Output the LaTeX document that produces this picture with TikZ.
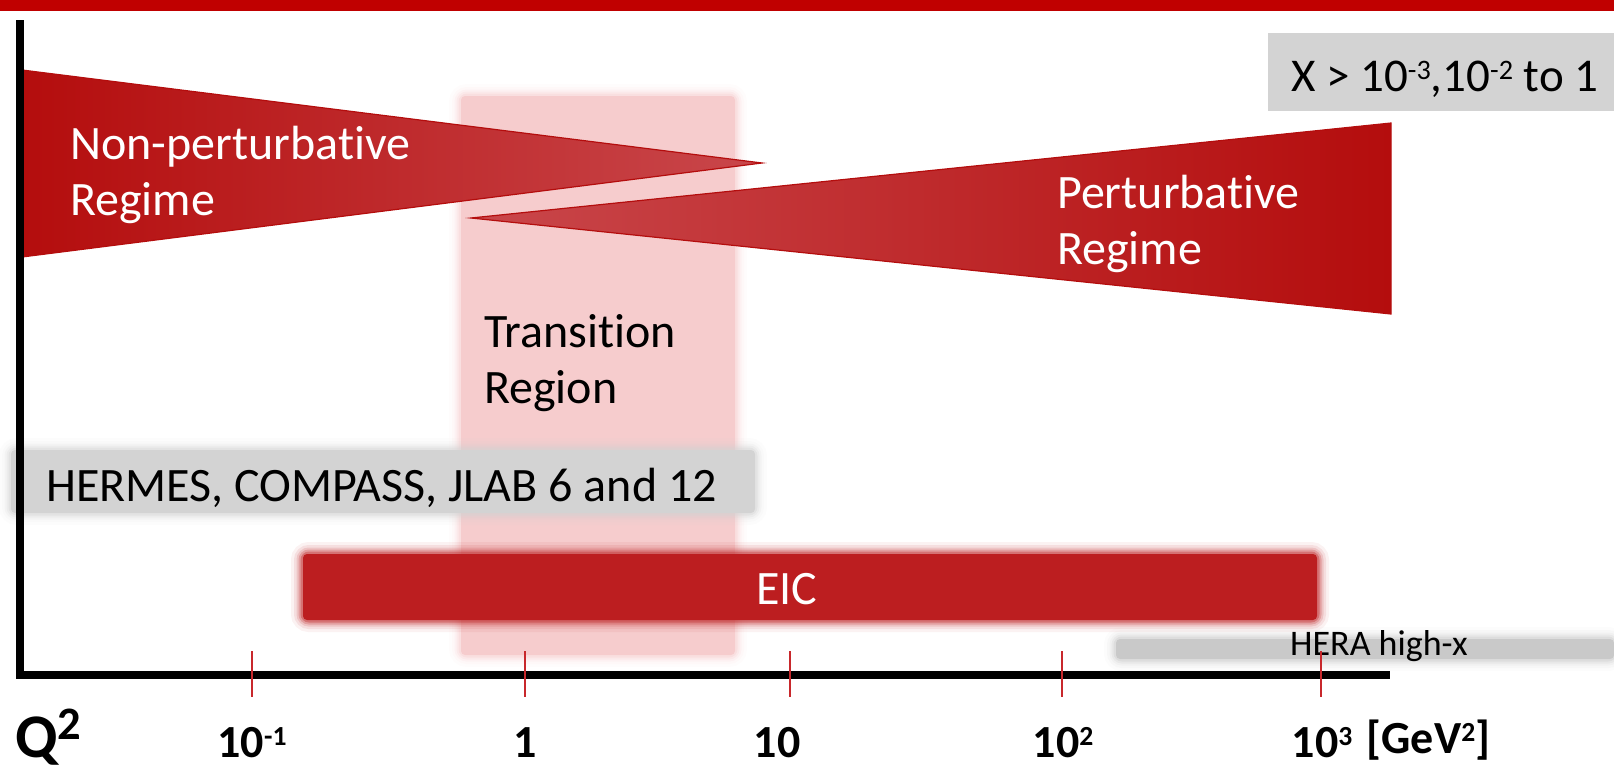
\documentclass[tikz,border=0pt]{standalone}
\usepackage{fontspec}
\setmainfont{Carlito}[Ligatures=NoCommon]
\usetikzlibrary{positioning}

\definecolor{titlered}{HTML}{C00000}
\definecolor{deepred}{HTML}{B40D0D}
\definecolor{midred}{HTML}{C01A1B}
\definecolor{tipred}{HTML}{C9474B}
\definecolor{eicred}{HTML}{BC1E20}
\definecolor{zonepink}{HTML}{F6CCCD}
\definecolor{bargray}{HTML}{D3D3D3}
\definecolor{heragray}{HTML}{C9C9C9}
\definecolor{tickred}{HTML}{C8282C}

% bar with a soft, blurred edge
\newcommand{\softbar}[3]{%
  \foreach \w/\o in {24/0.06,18/0.09,13/0.14,9/0.22,5/0.35}
    \draw[#1,line width=\w pt,opacity=\o,rounded corners=6pt] #2 rectangle #3;
  \fill[#1,rounded corners=4pt] #2 rectangle #3;
}
% exponent, top aligned with the digits
\newcommand{\pw}[1]{\raisebox{0.25em}{\scalebox{0.6}{#1}}}

\begin{document}
\begin{tikzpicture}[x=1pt,y=-1pt,
  lbl/.style={font=\fontsize{48}{56}\selectfont,inner sep=0pt,align=left,anchor=west},
  ticklbl/.style={font=\bfseries\fontsize{46}{50}\selectfont,inner sep=0pt,anchor=base},
  wedge/.style={draw=deepred,line width=1.2pt},
  axis/.style={line width=8.5pt,line join=miter}]
  \useasboundingbox (0,0) rectangle (1614,774);
  \fill[titlered] (0,0) rectangle (1614,11);

  % transition zone
  \softbar{zonepink}{(461,96)}{(735,655)}

  % the two regimes
  \shadedraw[wedge,left color=deepred,middle color=midred,right color=tipred] (22,70) -- (762,163) -- (22,257) -- cycle;
  \shadedraw[wedge,left color=tipred,middle color=midred,right color=deepred] (471,218) -- (1391,123) -- (1391,314) -- cycle;
  \node[lbl,white] (nonpert) at (70,175) {Non-perturbative\\Regime};
  \node[lbl,white] (pert) at (1057,224) {Perturbative\\Regime};
  \node[lbl] (trans) at (484,363) {Transition\\Region};

  \fill[bargray] (1268,33) rectangle (1614,111);
  \node[lbl,font=\fontsize{47}{56}\selectfont,anchor=base west] (xrange) at (1291,91) {X > 10\pw{-3},10\pw{-2} to 1};

  % experiments
  \softbar{bargray}{(11,450)}{(755,513)}
  \node[lbl,anchor=base west] (hermes) at (46,501) {HERMES, COMPASS, JLAB 6 and 12};
  \softbar{eicred}{(303,554)}{(1317,620)}
  \node[lbl,white,anchor=center] (eic) at (787,589) {EIC};
  \softbar{heragray}{(1116,639)}{(1614,659)}
  \node[lbl,font=\fontsize{36}{40}\selectfont,anchor=base west] (hera) at (1290,655) {HERA high-x};

  % axes
  \draw[axis] (20,20) |- (1390,675);
  \foreach \x/\lx/\lab [count=\i] in {252/252/{10\pw{-1}},525/525/1,790/777/10,
      1062/1063/{10\pw{2}},1321/1322/{10\pw{3}}}{
    \draw[tickred,line width=2.5pt] (\x,651) -- (\x,697);
    \node[ticklbl] (q\i) at (\lx,757) {\lab};
  }
  \node[ticklbl,right=14pt of q5.base east,anchor=base west,yshift=4pt] (unit) {[GeV\pw{2}]};
  \node[ticklbl,anchor=base west,font=\bfseries\fontsize{62}{70}\selectfont] (qsq) at (15,757) {Q\raisebox{0.29em}{\scalebox{0.75}{2}}};
\end{tikzpicture}
\end{document}
